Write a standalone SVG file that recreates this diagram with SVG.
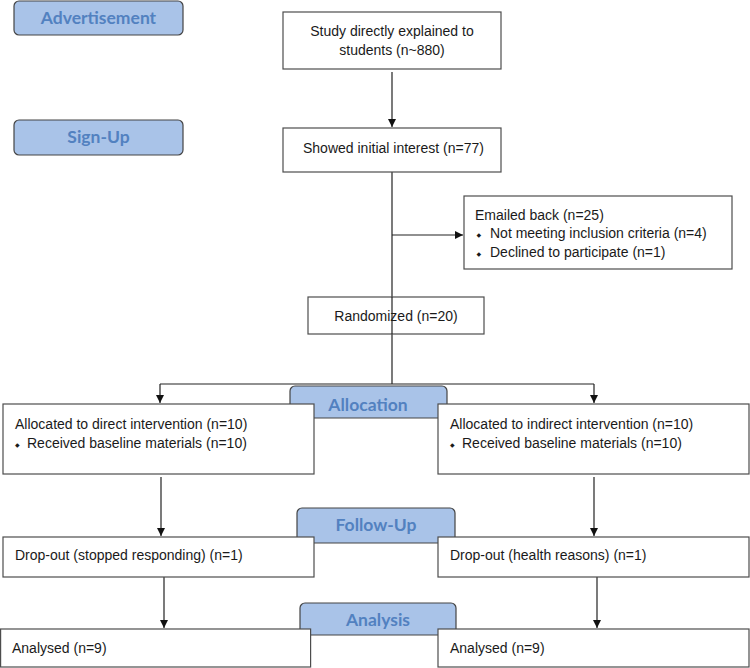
<svg xmlns="http://www.w3.org/2000/svg" width="750" height="668" viewBox="0 0 750 668">
<style>
.box{fill:#fff;stroke:#4d4d4d;stroke-width:1.2}
.stage{fill:#a9c3e8;stroke:#444;stroke-width:1.2}
.st{font-family:Lato,"Open Sans",sans-serif;font-weight:bold;font-size:17.5px;fill:#5281c0;text-anchor:middle}
.t{font-family:"Liberation Sans",Arial,sans-serif;font-size:14px;fill:#1a1a1a}
.b{font-family:"DejaVu Sans",sans-serif;font-size:6px;fill:#1a1a1a}
.c{text-anchor:middle}
.ln{stroke:#222;stroke-width:1.2;fill:none}
</style>
<defs>
<marker id="ah" markerWidth="10" markerHeight="10" refX="8" refY="4" orient="auto" markerUnits="userSpaceOnUse">
<path d="M0,0 L8,4 L0,8 Z" fill="#111"/>
</marker>
</defs>
<rect width="750" height="668" fill="#fff"/>
<g id="stage-advertisement"><rect class="stage" x="14" y="1" width="169" height="34" rx="5"/><text class="st" x="98.5" y="24">Advertisement</text></g>
<g id="stage-signup"><rect class="stage" x="14" y="120" width="169" height="35" rx="5"/><text class="st" x="98.5" y="143">Sign-Up</text></g>
<g id="stage-allocation"><rect class="stage" x="290" y="386" width="157" height="32" rx="5"/><text class="st" x="368" y="411">Allocation</text></g>
<g id="stage-followup"><rect class="stage" x="297" y="508" width="158" height="35" rx="5"/><text class="st" x="376" y="531">Follow-Up</text></g>
<g id="stage-analysis"><rect class="stage" x="300" y="603" width="156" height="32" rx="5"/><text class="st" x="378" y="626">Analysis</text></g>
<g id="connectors">
<line class="ln" x1="392" y1="72" x2="392" y2="127" marker-end="url(#ah)"/>
<line class="ln" x1="392" y1="172" x2="392" y2="384"/>
<line class="ln" x1="392" y1="235" x2="463" y2="235" marker-end="url(#ah)"/>
<line class="ln" x1="160" y1="384" x2="594" y2="384"/>
<line class="ln" x1="160" y1="384" x2="160" y2="403" marker-end="url(#ah)"/>
<line class="ln" x1="594" y1="384" x2="594" y2="403" marker-end="url(#ah)"/>
<line class="ln" x1="161" y1="477" x2="161" y2="536" marker-end="url(#ah)"/>
<line class="ln" x1="594" y1="477" x2="594" y2="536" marker-end="url(#ah)"/>
<line class="ln" x1="164" y1="577" x2="164" y2="628" marker-end="url(#ah)"/>
<line class="ln" x1="597" y1="577" x2="597" y2="628" marker-end="url(#ah)"/>
</g>
<g id="node-study"><rect class="box" x="283" y="12" width="218" height="57"/><text class="t c" x="392" y="36">Study directly explained to</text><text class="t c" x="392" y="55">students (n~880)</text></g>
<g id="node-interest"><rect class="box" x="283" y="128" width="218" height="44"/><text class="t" x="303" y="153">Showed initial interest (n=77)</text></g>
<g id="node-emailed"><rect class="box" x="464" y="196" width="268" height="73"/><text class="t" x="475" y="220">Emailed back (n=25)</text><text class="b" x="476.5" y="237">◆</text><text class="t" x="490" y="238">Not meeting inclusion criteria (n=4)</text><text class="b" x="476.5" y="256">◆</text><text class="t" x="490" y="257">Declined to participate (n=1)</text></g>
<g id="node-randomized"><rect class="box" x="308" y="297" width="176" height="37"/><text class="t c" x="396" y="321">Randomized (n=20)</text><line class="ln" x1="392" y1="297" x2="392" y2="334"/></g>
<g id="node-alloc-direct"><rect class="box" x="3" y="404" width="311" height="70"/><text class="t" x="15" y="429">Allocated to direct intervention (n=10)</text><text class="b" x="15" y="447">◆</text><text class="t" x="27" y="448">Received baseline materials (n=10)</text></g>
<g id="node-alloc-indirect"><rect class="box" x="438" y="404" width="311" height="70"/><text class="t" x="450" y="429">Allocated to indirect intervention (n=10)</text><text class="b" x="450" y="447">◆</text><text class="t" x="462" y="448">Received baseline materials (n=10)</text></g>
<g id="node-drop-left"><rect class="box" x="3" y="537" width="311" height="40"/><text class="t" x="15" y="560">Drop-out (stopped responding) (n=1)</text></g>
<g id="node-drop-right"><rect class="box" x="438" y="537" width="311" height="40"/><text class="t" x="450" y="560">Drop-out (health reasons) (n=1)</text></g>
<g id="node-analysed-left"><rect class="box" x="0.6" y="629" width="310" height="38"/><text class="t" x="12" y="653">Analysed (n=9)</text></g>
<g id="node-analysed-right"><rect class="box" x="438" y="629" width="311" height="38"/><text class="t" x="450" y="653">Analysed (n=9)</text></g>
</svg>
